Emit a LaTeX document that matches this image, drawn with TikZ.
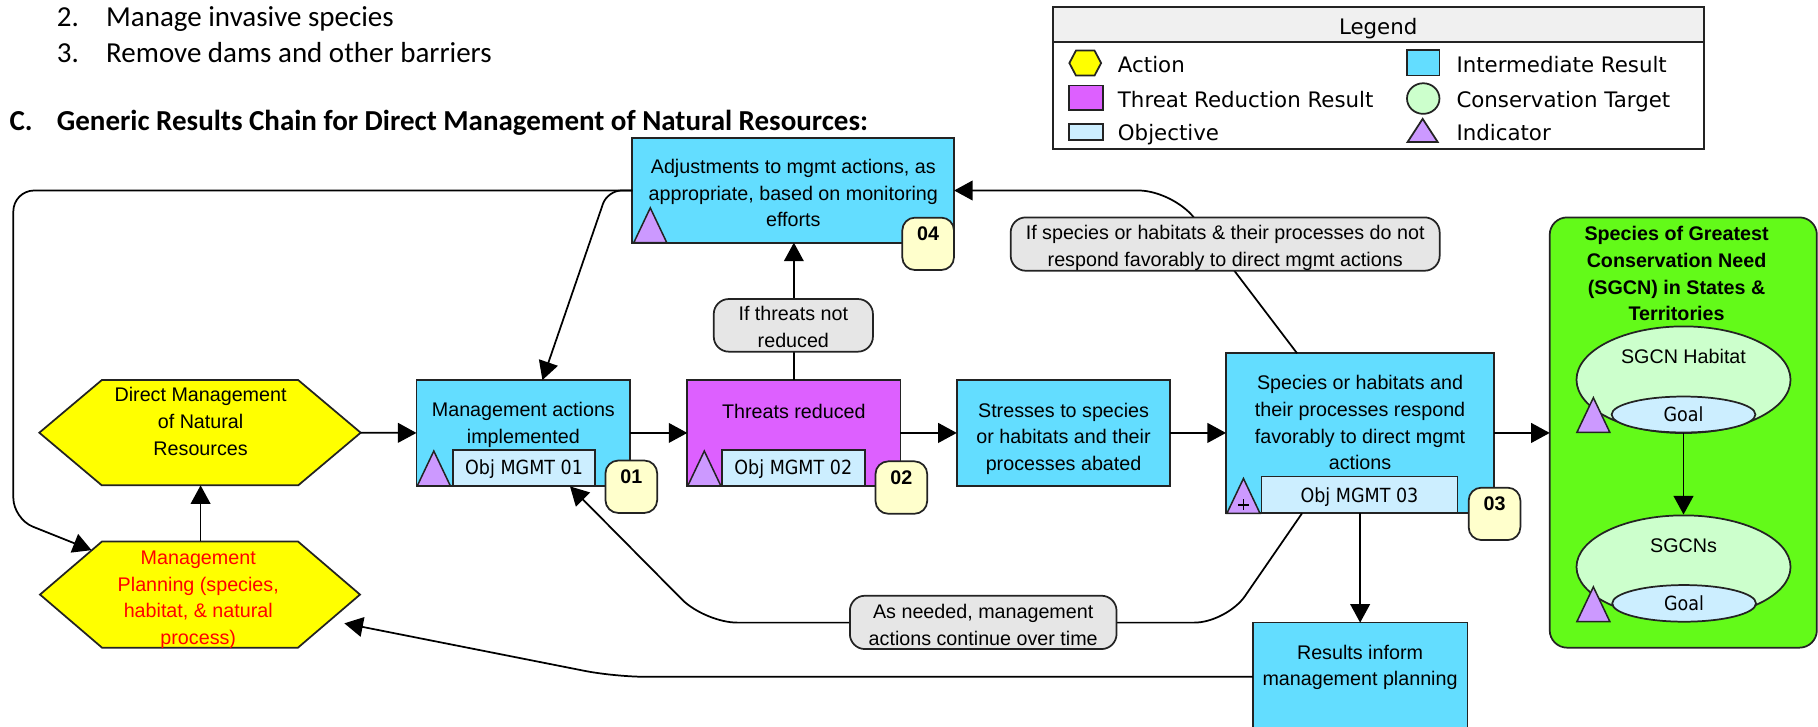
\documentclass[tikz,border=0pt]{standalone}
\usepackage{fontspec}
\setmainfont{Liberation Sans}
\newfontfamily\calib{Carlito}
\newfontfamily\tah[FakeStretch=0.9]{DejaVu Sans}
\newfontfamily\legfont{DejaVu Sans}
\usetikzlibrary{arrows.meta,shapes.geometric}

\definecolor{irblue}{RGB}{99,221,255}
\definecolor{thrmag}{RGB}{221,96,255}
\definecolor{objblue}{RGB}{204,238,255}
\definecolor{indpurp}{RGB}{204,153,255}
\definecolor{badgey}{RGB}{255,255,204}
\definecolor{lblgray}{RGB}{230,230,230}
\definecolor{sgreen}{RGB}{99,250,25}
\definecolor{ctgreen}{RGB}{204,255,204}
\definecolor{hdrgray}{RGB}{240,240,240}
\definecolor{edge}{RGB}{35,35,35}
\definecolor{actyellow}{RGB}{255,255,0}

\tikzset{
  box/.style={draw=edge, line width=1.5pt, anchor=north west, inner sep=0pt, outer sep=0pt},
  irbox/.style={box, fill=irblue},
  thrbox/.style={box, fill=thrmag},
  hexa/.style={draw=edge, line width=1.5pt, fill=actyellow},
  txt/.style={font=\fontsize{17}{23}\selectfont, align=center, inner sep=0pt,
    execute at begin node=\strut, execute at end node=\strut},
  captxt/.style={font=\fontsize{17}{20}\selectfont, inner sep=0pt, text height=12.2pt, text depth=0pt},
  objbox/.style={draw=edge, line width=1.5pt, fill=objblue, inner sep=0pt, outer sep=0pt,
    font=\tah\fontsize{16.8}{20}\selectfont, text height=12.2pt, text depth=0pt},
  badge/.style={draw=edge, line width=1.5pt, fill=badgey, rounded corners=11pt, inner sep=0pt,
    minimum width=44.6pt, minimum height=45.2pt},
  badgetxt/.style={font=\bfseries\fontsize{17}{20}\selectfont, anchor=base, inner sep=0pt},
  lbl/.style={draw=edge, line width=1.5pt, fill=lblgray, rounded corners=13pt, inner sep=0pt},
  ctell/.style={ellipse, draw=edge, line width=1.5pt, fill=ctgreen, inner sep=0pt},
  goalell/.style={ellipse, draw=edge, line width=1.5pt, fill=objblue, inner sep=0pt,
    font=\tah\fontsize{16.8}{20}\selectfont, text height=12.2pt, text depth=0pt},
  conn/.style={line width=1.5pt, draw=black},
  arr/.style={conn, -{Triangle[length=16pt,width=17pt]}},
  head/.style={font=\calib\fontsize{25}{30}\selectfont, inner sep=0pt, anchor=base west},
  legtxt/.style={font=\legfont\fontsize{18.4}{22}\selectfont, inner sep=0pt, anchor=base west},
  icon/.style={draw=edge, line width=1.5pt},
  indic/.pic={\draw[draw=edge, line width=1.3pt, fill=indpurp] (0,0) -- (28.5,0) -- (14.25,-30) -- cycle;}
}

\begin{document}
\begin{tikzpicture}[x=1pt,y=-1pt]
\useasboundingbox (0,0) rectangle (1568,627);
\clip (0,0) rectangle (1568,627);
\fill[white] (0,0) rectangle (1568,627);

% ---- document text above the chain
\node[head] (item2n) at (48.9,22.6) {2.};
\node[head] (item2) at (91.4,22.6) {Manage invasive species};
\node[head] (item3n) at (48.9,54.2) {3.};
\node[head] (item3) at (91.4,54.2) {Remove dams and other barriers};
\node[head, font=\calib\bfseries\fontsize{25}{30}\selectfont] (secC) at (8,112.5) {C.};
\node[head, font=\calib\bfseries\fontsize{25}{30}\selectfont] (secCt) at (48.9,112.5)
  {Generic Results Chain for Direct Management of Natural Resources:};

% ---- legend
\node[box, fill=white, minimum width=561.5pt, minimum height=122.5pt] (legbox) at (908,6.3) {};
\node[box, fill=hdrgray, minimum width=561.5pt, minimum height=30.2pt] (leghdr) at (908,6.3) {};
\node[legtxt, anchor=base] (legT) at (1188.7,29.6) {Legend};
\draw[icon, fill=actyellow] (922.3,54.4) -- (928,43.6) -- (944,43.6) -- (949.7,54.4) -- (944,65.2) -- (928,65.2) -- cycle;
\node[legtxt] (legA) at (964,62.8) {Action};
\draw[icon, fill=thrmag] (922.3,73.8) rectangle (951.6,94.8);
\node[legtxt] (legB) at (964,92.4) {Threat Reduction Result};
\draw[icon, fill=objblue] (922.3,106.9) rectangle (951.6,120.7);
\node[legtxt] (legC) at (964,121.6) {Objective};
\draw[icon, fill=irblue] (1213.6,43) rectangle (1241.5,65.2);
\node[legtxt] (legD) at (1256,62.8) {Intermediate Result};
\draw[icon, fill=ctgreen] (1227.5,85) ellipse [x radius=14, y radius=13.2];
\node[legtxt] (legE) at (1256,92.4) {Conservation Target};
\draw[icon, fill=indpurp] (1214,122.5) -- (1240,122.5) -- (1227,102.5) -- cycle;
\node[legtxt] (legF) at (1256,121.6) {Indicator};

% ---- actions (hexagons)
\draw[hexa] (33.9,373.2) -- (87.8,327.8) -- (257.2,327.8) -- (311.1,373.2) -- (257.2,418.6) -- (87.8,418.6) -- cycle;
\coordinate (dmE) at (311.1,373.2);
\coordinate (dmS) at (173,418.6);
\node[txt] (dmT) at (173,367) {Direct Management\\of Natural\\Resources};

\draw[hexa] (34.5,512.8) -- (88,467) -- (257,467) -- (310.5,512.8) -- (257,558.6) -- (88,558.6) -- cycle;
\coordinate (mpN) at (173,467);
\coordinate (mpNW) at (79,474.5);
\coordinate (mpSE) at (297,537.6);
\node[txt, text=red] (mpT) at (171,519) {Management\\Planning (species,\\habitat, \& natural\\process)};

% ---- results
\node[irbox, minimum width=277.5pt, minimum height=90pt] (adj) at (545.4,119.3) {};
\node[txt] (adjT) at (684.2,170) {Adjustments to mgmt actions, as\\appropriate, based on monitoring\\efforts};

\node[irbox, minimum width=184.4pt, minimum height=91.2pt] (mai) at (359.2,327.8) {};
\node[txt] (maiT) at (451.4,368) {Management actions\\implemented};

\node[thrbox, minimum width=183.8pt, minimum height=91.2pt] (thr) at (592.8,327.8) {};
\node[txt] (thrT) at (684.7,356.5) {Threats reduced};

\node[irbox, minimum width=184.1pt, minimum height=91.2pt] (str) at (825.2,327.8) {};
\node[txt] (strT) at (917.3,380) {Stresses to species\\or habitats and their\\processes abated};

\node[irbox, minimum width=231.4pt, minimum height=138pt] (spc) at (1057.4,304.7) {};
\node[txt] (spcT) at (1173,368) {Species or habitats and\\their processes respond\\favorably to direct mgmt\\actions};

\node[irbox, minimum width=185.1pt, minimum height=120pt] (res) at (1080.5,537) {};
\node[txt] (resT) at (1173,577.4) {Results inform\\management planning};

% ---- conservation targets
\node[box, fill=sgreen, rounded corners=15pt, minimum width=230.4pt, minimum height=371.1pt] (grn) at (1336.6,187.5) {};
\node[txt, font=\bfseries\fontsize{17}{23}\selectfont] (grnT) at (1446,239.5)
  {Species of Greatest\\Conservation Need\\(SGCN) in States \&\\Territories};
\node[ctell, minimum width=184.6pt, minimum height=92pt] (hab) at (1452,327.5) {};
\node[captxt] (habT) at (1452,307) {SGCN Habitat};
\node[goalell, minimum width=124pt, minimum height=31pt] (goal1) at (1452,357.5) {Goal};
\pic (indHab) at (1360,373) {indic};
\node[ctell, minimum width=184.6pt, minimum height=89pt] (sgc) at (1452,489) {};
\node[captxt] (sgcT) at (1452,470.3) {SGCNs};
\node[goalell, minimum width=124pt, minimum height=31.6pt] (goal2) at (1452.5,520.4) {Goal};
\pic (indSgc) at (1360,536.2) {indic};

% ---- objectives, indicators and numbers
\node[objbox, minimum width=122.6pt, minimum height=31pt] (obj1) at (452,403.5) {Obj MGMT 01};
\node[objbox, minimum width=123.4pt, minimum height=31pt] (obj2) at (684.2,403.5) {Obj MGMT 02};
\node[objbox, minimum width=169pt, minimum height=31.7pt] (obj3) at (1172.5,426.9) {Obj MGMT 03};
\pic (indAdj) at (546.6,209.3) {indic};
\pic (indMai) at (359.9,419) {indic};
\pic (indThr) at (593.2,419) {indic};
\pic (indSpc) at (1058.2,442.7) {indic};
\draw[line width=1.2pt] (1067.8,435.5) -- (1077.2,435.5) (1072.5,430.8) -- (1072.5,440.2);

\node[badge] (b04) at (800.5,210.3) {};
\node[badgetxt] (b04t) at (800.5,207.6) {04};
\node[badge] (b01) at (544.5,419.8) {};
\node[badgetxt] (b01t) at (544.5,417.2) {01};
\node[badge] (b02) at (777.4,420.5) {};
\node[badgetxt] (b02t) at (777.4,417.7) {02};
\node[badge] (b03) at (1289,443.2) {};
\node[badgetxt] (b03t) at (1289,440) {03};

% ---- connectors
\coordinate (spcTop) at (1118.7,304.7);
\coordinate (spcBot) at (1123,442.7);
\coordinate (maiTop) at (467.8,327.8);
\coordinate (obj1Bot) at (491.6,419.5);

\draw[arr] (dmE) -- (mai.west);
\draw[arr] (mai.east) -- (thr.west);
\draw[arr] (thr.east) -- (str.west);
\draw[arr] (str.east) -- (str.east -| spc.west);
\draw[arr] (spc.east |- str.east) -- (str.east -| grn.west);
\draw[arr] (mpN) -- (dmS);
\draw[arr] (thr.north) -- (thr.north |- adj.south);
\draw[arr] (spc.south) -- (spc.south |- res.north);
\draw[arr] (goal1.south) -- (sgc.north);

\draw[arr, rounded corners=30pt] (spcTop) -- (1012,164.3) -- (adj.east);
\draw[arr, rounded corners=18pt] (adj.west) -- (11.5,164.3) -- (11.5,447.5) -- (mpNW);
\draw[arr, rounded corners=12pt] (adj.west) -- (524,164.3) -- (maiTop);
\draw[arr, rounded corners=28pt] (spcBot) -- (1058,537) -- (608,537) -- (obj1Bot);
\draw[arr, rounded corners=26pt] (res.west |- 0,583.7) -- (530,583.7) -- (mpSE);

% ---- connector labels
\node[lbl, minimum width=137.3pt, minimum height=45.4pt] (lbl1) at (684.25,280.6) {};
\node[txt] (lbl1T) at (684.25,285.5) {If threats not\\reduced};
\node[lbl, minimum width=370pt, minimum height=46pt] (lbl2) at (1056.7,210.5) {};
\node[txt] (lbl2T) at (1056.7,215.5) {If species or habitats \& their processes do not\\respond favorably to direct mgmt actions};
\node[lbl, minimum width=230pt, minimum height=46pt] (lbl3) at (848,536.8) {};
\node[txt] (lbl3T) at (848,542.3) {As needed, management\\actions continue over time};
\end{tikzpicture}
\end{document}
